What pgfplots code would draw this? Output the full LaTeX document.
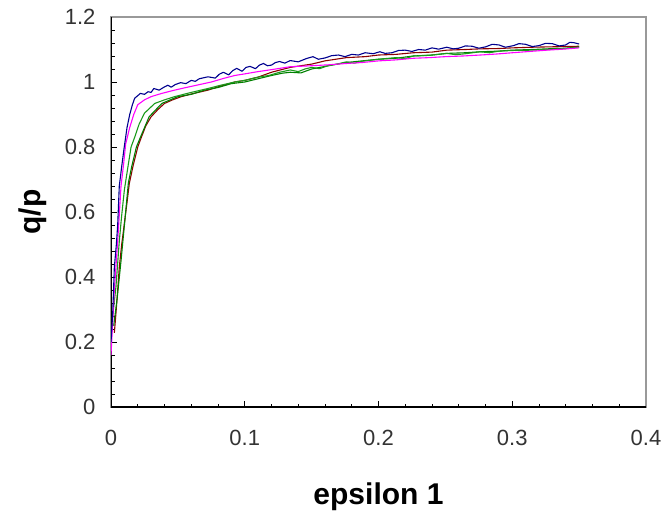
\documentclass[border=0pt]{standalone}
\usepackage{fontspec}
\setmainfont{Liberation Sans}
\usepackage{pgfplots}
\pgfplotsset{compat=1.18}
\definecolor{cblue}{HTML}{00008F}
\definecolor{cmag}{HTML}{FF00FF}
\definecolor{cgreen}{HTML}{008000}
\definecolor{cgreenb}{HTML}{1A9A1A}
\definecolor{cred}{HTML}{8B0000}
\begin{document}
\begin{tikzpicture}
\useasboundingbox (0,0) rectangle (662pt,512pt);
\begin{axis}[
  at={(111pt,105pt)}, anchor=south west,
  scale only axis, width=535pt, height=390pt,
  xmin=0, xmax=0.4, ymin=0, ymax=1.2,
  xtick={0,0.1,0.2,0.3,0.4}, ytick={0,0.2,0.4,0.6,0.8,1,1.2},
  minor x tick num=4, minor y tick num=4,
  xtick pos=bottom, ytick pos=left,
  tick align=inside,
  major tick length=6pt, minor tick length=3.5pt,
  every tick/.style={black, line width=0.9pt},
  axis line style={gray!80, line width=1.2pt},
  /pgf/number format/assume math mode=true,
  /pgf/number format/fixed,
  /pgf/number format/precision=1,
  tick label style={font=\fontsize{22}{26}\selectfont, text=black!80},
  xticklabel style={yshift=-20pt},
  yticklabel style={xshift=-12pt},
  xlabel={epsilon 1}, ylabel={q/p},
  xlabel style={at={(axis description cs:0.5,-0.231)}, anchor=center, font=\fontsize{30}{34}\selectfont\bfseries},
  ylabel style={at={(axis description cs:-0.146,0.5)}, anchor=center, rotate=0, font=\fontsize{30}{34}\selectfont\bfseries},
  every axis plot/.append style={line width=1.1pt, mark=none, line join=round},
]
\draw[black, line width=1.2pt] (axis cs:0,1.2) -- (axis cs:0,0) -- (axis cs:0.4,0);
% red
\addplot[cred] coordinates {
(0.0025,0.228) (0.0037,0.288) (0.0050,0.36) (0.0062,0.43) (0.008,0.50) (0.01,0.565) (0.012,0.63) (0.0137,0.688) (0.0164,0.74) (0.02,0.80) (0.0227,0.83) (0.026,0.865) (0.030,0.893) (0.035,0.915) (0.040,0.934) (0.046,0.945) (0.0526,0.955) (0.06,0.963) (0.0725,0.975) (0.08,0.985) (0.0925,1.0) (0.10,1.005) (0.11,1.015) (0.12,1.03) (0.134,1.045) (0.15,1.055) (0.16,1.065) (0.176,1.075) (0.19,1.078) (0.2,1.083) (0.213,1.085) (0.226,1.09) (0.24,1.092) (0.251,1.098) (0.265,1.10) (0.276,1.102) (0.29,1.103) (0.3,1.105) (0.315,1.107) (0.326,1.108) (0.34,1.109) (0.35,1.11)
};
% green (lower)
\addplot[cgreen] coordinates {
(0.002,0.25) (0.0045,0.33) (0.0075,0.45) (0.0105,0.58) (0.013,0.69) (0.0155,0.74) (0.019,0.80) (0.022,0.83) (0.0285,0.893) (0.038,0.934) (0.05,0.955) (0.06,0.962) (0.07,0.975) (0.08,0.983) (0.09,0.995) (0.1,1.0) (0.11,1.01) (0.12,1.02) (0.128,1.027) (0.134,1.03) (0.142,1.028) (0.15,1.04) (0.16,1.048) (0.176,1.06) (0.188,1.065) (0.2,1.07) (0.213,1.073) (0.226,1.08) (0.24,1.083) (0.251,1.088) (0.265,1.09) (0.276,1.093) (0.29,1.095) (0.3,1.098) (0.315,1.10) (0.326,1.102) (0.34,1.104) (0.35,1.108)
};
% green (upper)
\addplot[cgreenb] coordinates {
(0.001,0.27) (0.0037,0.37) (0.0062,0.51) (0.008,0.59) (0.01,0.668) (0.0127,0.74) (0.015,0.80) (0.0177,0.83) (0.021,0.87) (0.025,0.904) (0.0327,0.934) (0.04,0.945) (0.0476,0.955) (0.06,0.968) (0.0725,0.98) (0.082,0.99) (0.0925,1.0) (0.10,1.005) (0.11,1.015) (0.118,1.02) (0.126,1.03) (0.134,1.037) (0.14,1.032) (0.145,1.04) (0.15,1.045) (0.156,1.041) (0.162,1.05) (0.17,1.056) (0.176,1.062) (0.182,1.058) (0.188,1.064) (0.2,1.07) (0.213,1.075) (0.22,1.072) (0.226,1.08) (0.238,1.082) (0.251,1.088) (0.258,1.084) (0.265,1.087) (0.276,1.093) (0.283,1.09) (0.29,1.095) (0.3,1.097) (0.315,1.098) (0.326,1.10) (0.34,1.103) (0.35,1.107)
};
% magenta
\addplot[cmag] coordinates {
(0,0.16) (0.0025,0.36) (0.005,0.51) (0.0075,0.68) (0.0095,0.75) (0.011,0.81) (0.014,0.86) (0.017,0.90) (0.020,0.93) (0.025,0.945) (0.030,0.955) (0.038,0.965) (0.0476,0.975) (0.055,0.982) (0.065,0.991) (0.075,1.0) (0.085,1.012) (0.0925,1.02) (0.1,1.025) (0.11,1.032) (0.12,1.038) (0.134,1.047) (0.15,1.05) (0.163,1.053) (0.176,1.057) (0.188,1.06) (0.2,1.065) (0.213,1.068) (0.226,1.073) (0.238,1.075) (0.25,1.078) (0.263,1.08) (0.276,1.083) (0.288,1.086) (0.3,1.09) (0.313,1.094) (0.326,1.098) (0.338,1.101) (0.35,1.105)
};
% blue
\addplot[cblue] coordinates {
(0,0.20) (0.0013,0.29) (0.0025,0.43) (0.004,0.50) (0.005,0.56) (0.0062,0.68) (0.008,0.74) (0.0099,0.80) (0.012,0.86) (0.014,0.90) (0.016,0.93) (0.0177,0.950) (0.020,0.958) (0.022,0.965) (0.025,0.962) (0.0277,0.97) (0.030,0.968) (0.032,0.98) (0.036,0.975) (0.040,0.985) (0.0426,0.99) (0.045,0.984) (0.048,0.992) (0.052,0.998) (0.056,0.995) (0.06,1.005) (0.063,1.002) (0.066,1.01) (0.0725,1.016) (0.078,1.012) (0.081,1.024) (0.084,1.03) (0.088,1.022) (0.091,1.035) (0.094,1.042) (0.098,1.033) (0.101,1.045) (0.104,1.048) (0.108,1.041) (0.111,1.052) (0.114,1.057) (0.117,1.05) (0.12,1.052) (0.123,1.06) (0.126,1.063) (0.13,1.058) (0.134,1.066) (0.14,1.062) (0.146,1.072) (0.151,1.078) (0.155,1.07) (0.16,1.074) (0.165,1.081) (0.17,1.083) (0.175,1.078) (0.18,1.085) (0.185,1.083) (0.19,1.09) (0.196,1.087) (0.201,1.093) (0.205,1.088) (0.21,1.09) (0.215,1.097) (0.22,1.098) (0.225,1.094) (0.23,1.10) (0.235,1.098) (0.24,1.105) (0.245,1.101) (0.251,1.107) (0.256,1.102) (0.26,1.104) (0.265,1.111) (0.27,1.11) (0.275,1.104) (0.28,1.108) (0.285,1.116) (0.29,1.114) (0.295,1.107) (0.301,1.112) (0.305,1.118) (0.31,1.116) (0.315,1.109) (0.32,1.112) (0.325,1.119) (0.33,1.118) (0.335,1.111) (0.34,1.114) (0.343,1.122) (0.346,1.121) (0.35,1.117)
};
\end{axis}
\end{tikzpicture}
\end{document}
